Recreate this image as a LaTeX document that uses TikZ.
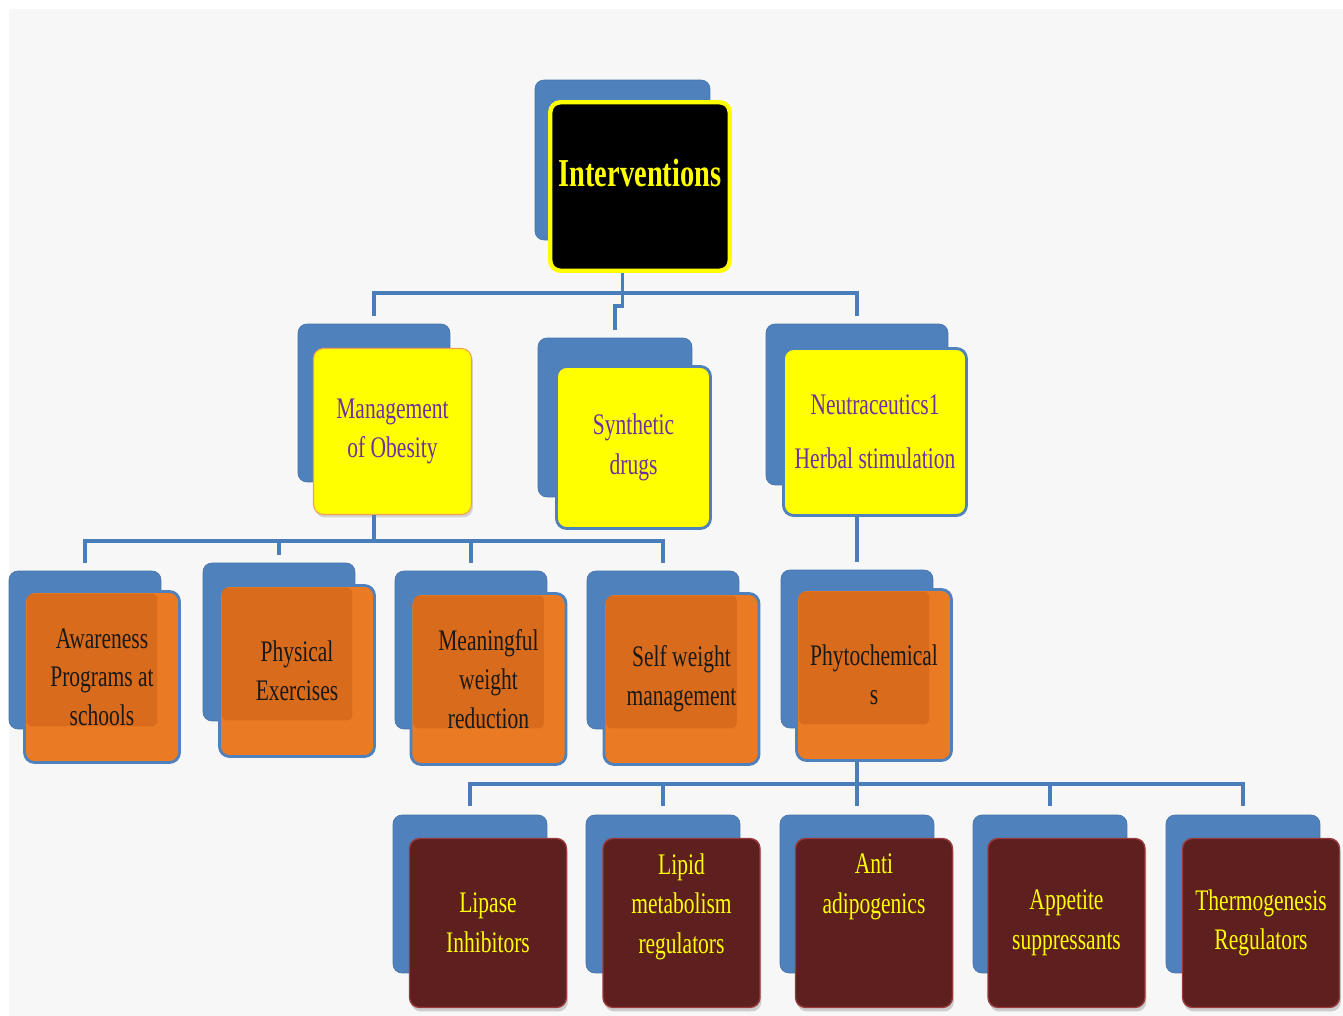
\documentclass[tikz,border=0pt]{standalone}
\usepackage{fontspec}
\setmainfont{Liberation Serif}[FakeStretch=0.72]
\usetikzlibrary{shadows}
\definecolor{paper}{HTML}{F7F7F7}
\definecolor{offblue}{HTML}{4F81BD}
\definecolor{linkblue}{HTML}{4A7EBB}
\definecolor{boxyellow}{HTML}{FFFF00}
\definecolor{purpletext}{HTML}{7030A0}
\definecolor{mgmtedge}{HTML}{F0A050}
\definecolor{boxorange}{HTML}{EA7B24}
\definecolor{boxorangedk}{HTML}{D96B1C}
\definecolor{maroon}{HTML}{5E1F1F}
\definecolor{maroonedge}{HTML}{9B3A3A}
\definecolor{textyellow}{HTML}{FFFF00}
\begin{document}
\begin{tikzpicture}[x=0.02cm, y=-0.02cm,
	back/.style={fill=offblue, draw=offblue!90!black, line width=0.4pt, rounded corners=0.18cm, inner sep=0pt, minimum width=3.04cm, minimum height=3.16cm},
	boxtwo/.style={fill=boxyellow, draw=offblue, line width=1.6pt, rounded corners=0.2cm, inner sep=0pt, text=purpletext, align=center, font=\fontsize{17}{22.5}\selectfont},
	boxthree/.style={fill=boxorange, draw=offblue, line width=1.6pt, rounded corners=0.2cm, inner sep=0pt, minimum width=3.1cm, minimum height=3.42cm, text=black!90, align=center, font=\fontsize{17}{22}\selectfont,
		path picture={\fill[boxorangedk, rounded corners=0.12cm] ([xshift=0.04cm,yshift=-0.04cm]path picture bounding box.north west) rectangle ([xshift=-0.44cm,yshift=0.72cm]path picture bounding box.south east);}},
	boxfour/.style={fill=maroon, draw=maroonedge, line width=0.8pt, rounded corners=0.2cm, inner sep=0pt, minimum width=3.14cm, minimum height=3.38cm, text=textyellow, align=center, font=\fontsize{17}{22.5}\selectfont,
		drop shadow={opacity=0.35, shadow xshift=0.03cm, shadow yshift=-0.08cm}},
	link/.style={draw=linkblue, line width=2pt}]
	\fill[white] (0,0) rectangle (1343,1016);
	\fill[paper] (9,9) rectangle (1343,1016);

	\node[back, minimum width=3.5cm, minimum height=3.2cm] (intB) at (622.5,160) {};
	\node[fill=black, draw=boxyellow, line width=2.5pt, rounded corners=0.2cm, inner sep=0pt, minimum width=3.59cm, minimum height=3.37cm, text=textyellow, font=\bfseries\fontsize{22.5}{27}\selectfont] (int) at (640,186.5) {\smash{Interventions}};

	\node[back] (mgmtB) at (374,403) {};
	\node[back, minimum width=3.08cm, minimum height=3.18cm] (synB) at (615,417.5) {};
	\node[back, minimum width=3.64cm, minimum height=3.22cm] (natB) at (857,404.5) {};
	\node[boxtwo, draw=mgmtedge, line width=0.6pt, minimum width=3.16cm, minimum height=3.32cm, drop shadow={opacity=0.3, shadow xshift=0.03cm, shadow yshift=-0.06cm}] (mgmt) at (392.5,431.5) {Management\\of Obesity};
	\node[boxtwo, minimum width=3.08cm, minimum height=3.24cm] (syn) at (633.5,447.5) {Synthetic\\drugs};
	\node[boxtwo, minimum width=3.66cm, minimum height=3.34cm] (nat) at (875,432) {Neutraceutics1\\[8pt]Herbal stimulation};

	\foreach \n/\x/\y in {awaB/85/650, physB/279/642, meanB/471/650, selfB/663/650, phytoB/857/649}{
	\node[back] (\n) at (\x,\y) {};
	}
	\node[boxthree] (awa) at (102,677) {Awareness\\Programs at\\schools};
	\node[boxthree] (phys) at (297,671) {Physical\\Exercises};
	\node[boxthree] (mean) at (488.5,679) {Meaningful\\weight\\reduction};
	\node[boxthree] (self) at (681.5,679) {Self weight\\management};
	\node[boxthree] (phyto) at (874,675) {Phytochemical\\s};

	\foreach \n/\x in {lipB/470, lpdB/663, antiB/857, appB/1050, thermB/1243}{
	\node[back, minimum width=3.08cm] (\n) at (\x,894) {};
	}
	\node[boxfour] (lip) at (488,923) {Lipase\\Inhibitors};
	\node[boxfour] (lpd) at (681.5,923) {Lipid\\metabolism\\regulators\\~};
	\node[boxfour] (anti) at (874,923) {Anti\\adipogenics\\~\\~};
	\node[boxfour] (app) at (1066.5,923) {Appetite\\suppressants};
	\node[boxfour] (therm) at (1261,923) {Thermogenesis\\Regulators};

	\draw[link] (intB.center |- int.south) -- ++(0,20) coordinate (hubA);
	\draw[link, shorten >=0.16cm] (hubA) -| (mgmtB.north);
	\draw[link, shorten >=0.16cm] (hubA) -| (natB.north);
	\draw[link, shorten >=0.16cm] (hubA) -- ++(0,13) -| (synB.north);

	\draw[link] (mgmtB.center |- mgmt.south) -- ++(0,26) coordinate (hubB);
	\foreach \n in {awaB, physB, meanB, selfB}{
	\draw[link, shorten >=0.16cm] (hubB) -| (\n.north);
	}
	\draw[link, shorten >=0.16cm] (natB.center |- nat.south) -- (phytoB.north);

	\draw[link] (phytoB.center |- phyto.south) -- ++(0,22) coordinate (hubC);
	\foreach \n in {lipB, lpdB, antiB, appB, thermB}{
	\draw[link, shorten >=0.18cm] (hubC) -| (\n.north);
	}
\end{tikzpicture}
\end{document}
